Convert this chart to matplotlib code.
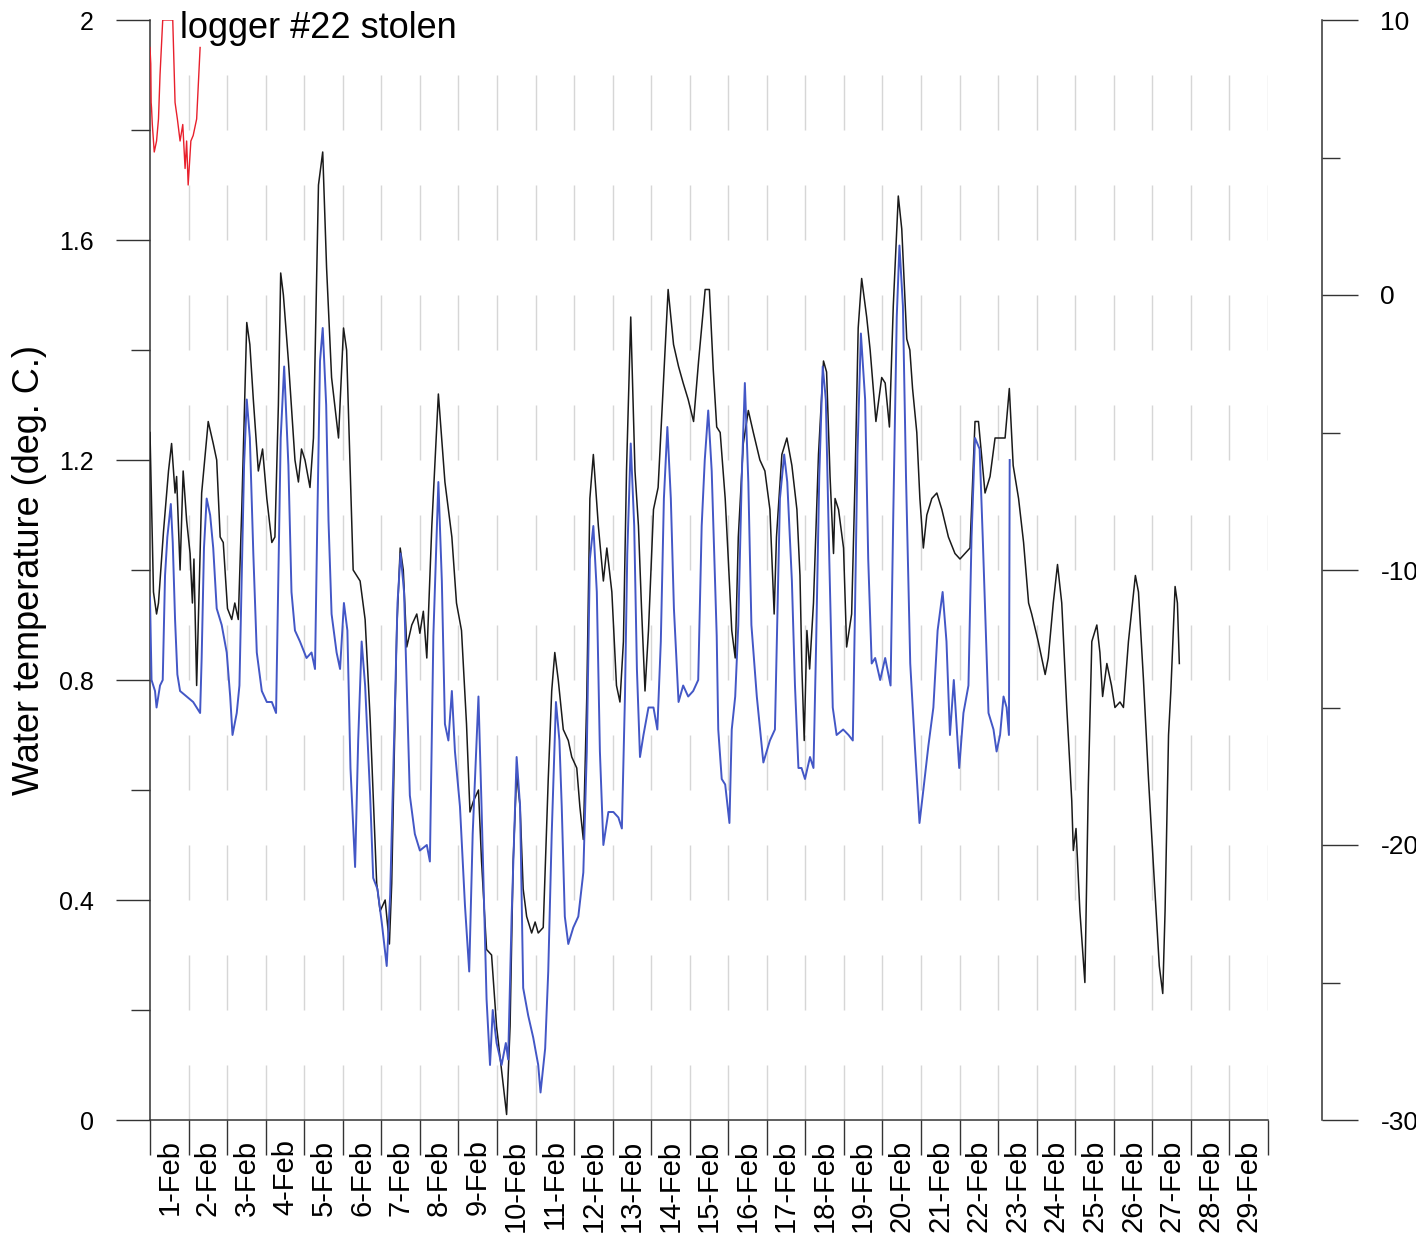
import matplotlib
matplotlib.use("Agg")
import matplotlib.pyplot as plt

plt.rcParams['font.family'] = ['Liberation Sans', 'DejaVu Sans']
plt.rcParams['axes.unicode_minus'] = False
plt.rcParams['lines.scale_dashes'] = False

# time in days since 1-Feb 00:00, water temperature in deg C

black_t = [0.00, 0.09, 0.17, 0.22, 0.35, 0.48, 0.56, 0.65, 0.69, 0.78, 0.86, 0.95, 1.04, 1.10, 1.14, 1.21,
           1.34, 1.51, 1.64, 1.73, 1.82, 1.90, 2.01, 2.12, 2.20, 2.29, 2.38, 2.51, 2.59, 2.68, 2.81, 2.92,
           3.03, 3.16, 3.24, 3.33, 3.39, 3.46, 3.59, 3.76, 3.85, 3.93, 4.02, 4.15, 4.24, 4.37, 4.48, 4.58,
           4.71, 4.89, 5.02, 5.10, 5.27, 5.45, 5.58, 5.71, 5.88, 5.97, 6.10, 6.21, 6.27, 6.40, 6.49, 6.57,
           6.66, 6.79, 6.92, 7.00, 7.09, 7.18, 7.31, 7.48, 7.65, 7.83, 7.95, 8.08, 8.21, 8.30, 8.39, 8.52,
           8.60, 8.73, 8.86, 8.99, 9.12, 9.25, 9.34, 9.42, 9.51, 9.60, 9.68, 9.77, 9.90, 9.99, 10.07, 10.20,
           10.33, 10.42, 10.50, 10.59, 10.72, 10.85, 10.94, 11.07, 11.15, 11.24, 11.33, 11.41, 11.50, 11.63,
           11.76, 11.85, 11.98, 12.10, 12.19, 12.28, 12.36, 12.47, 12.58, 12.67, 12.75, 12.84, 12.93, 13.06,
           13.18, 13.31, 13.44, 13.58, 13.71, 13.83, 13.96, 14.10, 14.23, 14.40, 14.51, 14.61, 14.70, 14.79,
           14.92, 15.00, 15.09, 15.18, 15.26, 15.39, 15.52, 15.65, 15.82, 15.95, 16.08, 16.19, 16.25, 16.39,
           16.52, 16.65, 16.78, 16.86, 16.91, 16.97, 17.04, 17.11, 17.21, 17.34, 17.47, 17.55, 17.64, 17.73,
           17.77, 17.86, 17.99, 18.07, 18.20, 18.29, 18.37, 18.46, 18.59, 18.68, 18.83, 18.98, 19.07, 19.18,
           19.28, 19.41, 19.50, 19.63, 19.71, 19.78, 19.89, 19.97, 20.06, 20.15, 20.28, 20.41, 20.54, 20.71,
           20.88, 21.01, 21.27, 21.40, 21.49, 21.66, 21.79, 21.92, 22.09, 22.18, 22.29, 22.39, 22.53, 22.66,
           22.79, 22.87, 23.04, 23.22, 23.30, 23.43, 23.54, 23.65, 23.78, 23.91, 23.95, 24.02, 24.12, 24.25,
           24.34, 24.43, 24.56, 24.64, 24.71, 24.82, 24.94, 25.03, 25.16, 25.25, 25.38, 25.56, 25.64, 25.77,
           25.90, 26.03, 26.18, 26.27, 26.33, 26.42, 26.48, 26.59, 26.65, 26.70]
black_v = [1.25, 0.96, 0.92, 0.94, 1.07, 1.18, 1.23, 1.14, 1.17, 1.00, 1.18, 1.09, 1.03, 0.94, 1.02, 0.79,
           1.14, 1.27, 1.23, 1.20, 1.06, 1.05, 0.93, 0.91, 0.94, 0.91, 1.11, 1.45, 1.41, 1.31, 1.18, 1.22,
           1.13, 1.05, 1.06, 1.30, 1.54, 1.50, 1.38, 1.20, 1.16, 1.22, 1.20, 1.15, 1.24, 1.70, 1.76, 1.55,
           1.35, 1.24, 1.44, 1.40, 1.00, 0.98, 0.91, 0.73, 0.43, 0.38, 0.40, 0.32, 0.43, 0.89, 1.04, 1.00,
           0.86, 0.90, 0.92, 0.885, 0.925, 0.84, 1.08, 1.32, 1.16, 1.06, 0.94, 0.89, 0.72, 0.56, 0.58, 0.60,
           0.47, 0.31, 0.30, 0.17, 0.09, 0.01, 0.17, 0.47, 0.63, 0.57, 0.42, 0.37, 0.34, 0.36, 0.34, 0.35,
           0.62, 0.78, 0.85, 0.80, 0.71, 0.69, 0.66, 0.64, 0.57, 0.51, 0.77, 1.13, 1.21, 1.08,
           0.98, 1.04, 0.96, 0.79, 0.76, 0.87, 1.18, 1.46, 1.18, 1.08, 0.93, 0.78, 0.89, 1.11,
           1.15, 1.33, 1.51, 1.41, 1.37, 1.34, 1.31, 1.27, 1.38, 1.51, 1.51, 1.365, 1.26, 1.25,
           1.13, 1.02, 0.89, 0.84, 1.06, 1.23, 1.29, 1.25, 1.20, 1.18, 1.11, 0.92, 1.06, 1.21,
           1.24, 1.19, 1.11, 0.99, 0.82, 0.69, 0.89, 0.82, 0.94, 1.21, 1.38, 1.36, 1.17, 1.03,
           1.13, 1.11, 1.04, 0.86, 0.92, 1.17, 1.44, 1.53, 1.46, 1.40, 1.27, 1.35, 1.34, 1.26,
           1.48, 1.68, 1.62, 1.42, 1.40, 1.33, 1.25, 1.13, 1.04, 1.10, 1.13, 1.14, 1.11, 1.06,
           1.03, 1.02, 1.04, 1.27, 1.27, 1.14, 1.17, 1.24, 1.24, 1.24, 1.33, 1.19, 1.13, 1.05,
           0.94, 0.92, 0.87, 0.81, 0.84, 0.94, 1.01, 0.94, 0.75, 0.58, 0.49, 0.53, 0.38, 0.25,
           0.61, 0.87, 0.90, 0.85, 0.77, 0.83, 0.79, 0.75, 0.76, 0.75, 0.87, 0.99, 0.96, 0.80,
           0.62, 0.46, 0.28, 0.23, 0.38, 0.70, 0.78, 0.97, 0.94, 0.83]

blue_t = [0.00, 0.04, 0.13, 0.17, 0.26, 0.33, 0.39, 0.45, 0.54, 0.59, 0.65, 0.71, 0.78, 0.95, 1.12, 1.30,
          1.34, 1.40, 1.47, 1.56, 1.64, 1.73, 1.86, 1.99, 2.08, 2.14, 2.25, 2.32, 2.38, 2.44, 2.51, 2.59,
          2.68, 2.77, 2.90, 3.03, 3.16, 3.27, 3.33, 3.39, 3.48, 3.59, 3.67, 3.76, 3.89, 4.06, 4.19, 4.28,
          4.34, 4.41, 4.48, 4.57, 4.63, 4.71, 4.84, 4.93, 5.03, 5.12, 5.20, 5.32, 5.40, 5.49, 5.58, 5.71,
          5.79, 5.90, 6.01, 6.14, 6.23, 6.33, 6.42, 6.50, 6.59, 6.66, 6.74, 6.87, 7.00, 7.18, 7.26, 7.35,
          7.48, 7.57, 7.65, 7.74, 7.83, 7.91, 8.04, 8.17, 8.28, 8.37, 8.43, 8.52, 8.60, 8.73, 8.82, 8.89,
          8.99, 9.12, 9.23, 9.29, 9.38, 9.51, 9.60, 9.68, 9.81, 9.94, 10.07, 10.13, 10.25, 10.33, 10.42,
          10.53, 10.62, 10.68, 10.76, 10.85, 10.98, 11.11, 11.24, 11.33, 11.41, 11.50, 11.59, 11.67, 11.76,
          11.89, 12.02, 12.15, 12.24, 12.32, 12.38, 12.47, 12.56, 12.63, 12.71, 12.80, 12.93, 13.06, 13.16,
          13.25, 13.33, 13.42, 13.51, 13.59, 13.71, 13.83, 13.96, 14.09, 14.22, 14.31, 14.39, 14.48, 14.57,
          14.70, 14.74, 14.83, 14.92, 15.03, 15.09, 15.18, 15.26, 15.35, 15.43, 15.52, 15.60, 15.74, 15.91,
          16.08, 16.21, 16.27, 16.34, 16.45, 16.53, 16.65, 16.73, 16.82, 16.90, 16.99, 17.12, 17.21, 17.28,
          17.36, 17.45, 17.53, 17.62, 17.71, 17.81, 17.98, 18.12, 18.23, 18.29, 18.35, 18.44, 18.55, 18.63,
          18.72, 18.81, 18.94, 19.07, 19.21, 19.28, 19.37, 19.44, 19.53, 19.61, 19.72, 19.84, 19.96, 20.06,
          20.19, 20.32, 20.43, 20.56, 20.66, 20.75, 20.85, 20.99, 21.10, 21.23, 21.31, 21.40, 21.52, 21.60,
          21.75, 21.88, 21.96, 22.05, 22.14, 22.22, 22.28, 22.30]
blue_v = [0.95, 0.80, 0.78, 0.75, 0.79, 0.80, 0.99, 1.06, 1.12, 1.05, 0.91, 0.81, 0.78, 0.77, 0.76, 0.74,
          0.84, 1.04, 1.13, 1.10, 1.04, 0.93, 0.90, 0.85, 0.77, 0.70, 0.74, 0.79, 0.99, 1.19, 1.31, 1.24,
          1.03, 0.85, 0.78, 0.76, 0.76, 0.74, 0.99, 1.24, 1.37, 1.19, 0.96, 0.89, 0.87, 0.84, 0.85, 0.82,
          1.09, 1.38, 1.44, 1.30, 1.09, 0.92, 0.85, 0.82, 0.94, 0.89, 0.64, 0.46, 0.69, 0.87, 0.79, 0.59,
          0.44, 0.42, 0.36, 0.28, 0.41, 0.69, 0.94, 1.03, 0.96, 0.79, 0.59, 0.52, 0.49, 0.50, 0.47, 0.88,
          1.16, 0.98, 0.72, 0.69, 0.78, 0.67, 0.57, 0.39, 0.27, 0.52, 0.62, 0.77, 0.57, 0.22, 0.10, 0.20,
          0.14, 0.10, 0.14, 0.11, 0.37, 0.66, 0.57, 0.24, 0.19, 0.15, 0.10, 0.05, 0.13, 0.27, 0.52,
          0.76, 0.69, 0.57, 0.37, 0.32, 0.35, 0.37, 0.45, 0.67, 1.02, 1.08, 0.96, 0.67, 0.50,
          0.56, 0.56, 0.55, 0.53, 0.77, 1.03, 1.23, 1.08, 0.82, 0.66, 0.70, 0.75, 0.75, 0.71,
          0.87, 1.13, 1.26, 1.13, 0.93, 0.76, 0.79, 0.77, 0.78, 0.80, 1.08, 1.20, 1.29, 1.18,
          0.88, 0.71, 0.62, 0.61, 0.54, 0.71, 0.77, 0.90, 1.17, 1.34, 1.16, 0.90, 0.77, 0.65,
          0.69, 0.71, 0.90, 1.13, 1.21, 1.16, 0.98, 0.79, 0.64, 0.64, 0.62, 0.66, 0.64, 0.87,
          1.17, 1.37, 1.31, 1.02, 0.75, 0.70, 0.71, 0.70, 0.69, 0.94, 1.21, 1.43, 1.31, 1.02,
          0.83, 0.84, 0.80, 0.84, 0.79, 1.10, 1.46, 1.59, 1.48, 1.17, 0.83, 0.68, 0.54, 0.60,
          0.68, 0.75, 0.89, 0.96, 0.87, 0.70, 0.80, 0.64, 0.74, 0.79, 1.06, 1.24, 1.22, 1.06,
          0.74, 0.71, 0.67, 0.70, 0.77, 0.75, 0.70, 1.20]

red_t = [0.00, 0.02, 0.03, 0.04, 0.06, 0.11, 0.17, 0.22, 0.26, 0.33, 0.59, 0.65, 0.71, 0.78, 0.85, 0.91,
         0.95, 0.99, 1.06, 1.12, 1.21, 1.30]
red_v = [1.95, 1.92, 1.85, 1.84, 1.81, 1.76, 1.78, 1.82, 1.90, 2.00, 2.00, 1.85, 1.82, 1.78, 1.81, 1.73,
         1.78, 1.70, 1.78, 1.79, 1.82, 1.95]

day_labels = [str(d) + "-Feb" for d in range(1, 30)]
left_ticks = [0, 0.4, 0.8, 1.2, 1.6, 2.0]
left_labels = ["0", "0.4", "0.8", "1.2", "1.6", "2"]
right_ticks = [-30, -20, -10, 0, 10]

fig = plt.figure(figsize=(14.16, 12.47), dpi=100)
ax = fig.add_axes([150 / 1416, 1 - 1120 / 1247, 1118 / 1416, 1100 / 1247])

# faint dashed day lines
for d in range(1, 30):
    ax.plot([d, d], [2.0, 0.0], color="#d6d6d6", lw=1.0,
            linestyle=(39.6, (39.6, 39.6)), zorder=1)

ax.plot(black_t, black_v, color="#1a1a1a", lw=1.1, zorder=3)
ax.plot(blue_t, blue_v, color="#4357c6", lw=1.4, zorder=4)
ax.plot(red_t, red_v, color="#e8202c", lw=1.0, zorder=4)

ax.set_xlim(0, 29)
ax.set_ylim(0, 2)

ax.spines['top'].set_visible(False)
ax.spines['right'].set_visible(False)
ax.spines['left'].set_linewidth(1.1)
ax.spines['bottom'].set_linewidth(1.1)
ax.spines['left'].set_color("#333333")
ax.spines['bottom'].set_color("#333333")

ax.set_xticks(range(0, 30))
ax.set_xticklabels([])
ax.set_xticks([d + 0.5 for d in range(29)], minor=True)
ax.set_xticklabels(day_labels, minor=True, rotation=90, fontsize=21)
ax.tick_params(axis='x', which='major', length=25, width=1.0, color="#333333")
ax.tick_params(axis='x', which='minor', length=0, pad=14)

ax.set_yticks(left_ticks)
ax.set_yticklabels(left_labels, fontsize=18)
ax.set_yticks([0.2, 0.6, 1.0, 1.4, 1.8], minor=True)
ax.tick_params(axis='y', which='major', length=24.5, width=1.0, pad=16, color="#333333")
ax.tick_params(axis='y', which='minor', length=13.5, width=1.0, color="#333333")

ax.text(0.78, 1.967, "logger #22 stolen", fontsize=26, va='baseline', ha='left')

fig.text(30 / 1416, 1 - 570 / 1247, "Water temperature (deg. C.)", rotation=90,
         ha='center', va='center', fontsize=26)

# second (right) axis, drawn detached
ax2 = ax.twinx()
ax2.set_ylim(-30, 10)
for s in ['top', 'bottom', 'left']:
    ax2.spines[s].set_visible(False)
ax2.spines['right'].set_position(('outward', 39))
ax2.spines['right'].set_linewidth(1.1)
ax2.spines['right'].set_color("#333333")
ax2.set_yticks(right_ticks)
ax2.set_yticklabels([str(v) for v in right_ticks], fontsize=19)
ax2.set_yticks([-25, -15, -5, 5], minor=True)
ax2.tick_params(axis='y', which='major', length=26, width=1.0, pad=16, color="#333333")
ax2.tick_params(axis='y', which='minor', length=13, width=1.0, color="#333333")

fig.savefig("out.png", dpi=100)
